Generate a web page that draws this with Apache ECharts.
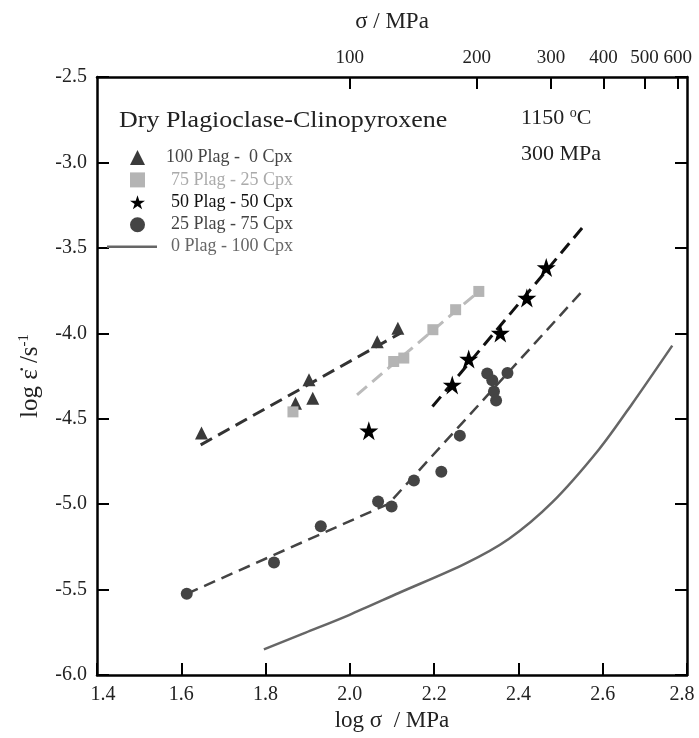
<!DOCTYPE html>
<html>
<head>
<meta charset="utf-8">
<script src="https://cdn.jsdelivr.net/npm/echarts@6/dist/echarts.min.js"></script>
<style>html,body{margin:0;padding:0;background:#fff}#c{width:699px;height:738px}</style>
</head>
<body>
<div id="c"></div>
<script>
// ---- data (log sigma / MPa, log strain rate / s^-1) ----
const xTicks = [1.4, 1.6, 1.8, 2.0, 2.2, 2.4, 2.6, 2.8];
const yTicks = [-6.0, -5.5, -5.0, -4.5, -4.0, -3.5, -3.0, -2.5];
const topTickMPa = [100, 200, 300, 400, 500, 600];

const plag100X = [1.648, 1.871, 1.903, 1.912, 2.065, 2.114];
const plag100Y = [-4.584, -4.409, -4.272, -4.380, -4.049, -3.970];
const plag75X = [1.865, 2.104, 2.128, 2.197, 2.251, 2.306];
const plag75Y = [-4.46, -4.165, -4.145, -3.979, -3.862, -3.755];
const plag50X = [2.045, 2.243, 2.282, 2.357, 2.420, 2.466];
const plag50Y = [-4.571, -4.302, -4.151, -3.999, -3.794, -3.615];
const plag25X = [1.613, 1.820, 1.931, 2.067, 2.099, 2.152, 2.217, 2.261, 2.326, 2.338, 2.342, 2.347, 2.374];
const plag25Y = [-5.525, -5.342, -5.129, -4.985, -5.014, -4.862, -4.810, -4.599, -4.236, -4.275, -4.341, -4.393, -4.232];

const fit100X = [1.646, 2.120];
const fit100Y = [-4.653, -3.999];
const fit75X = [2.017, 2.306];
const fit75Y = [-4.36, -3.755];
const fit50X = [2.196, 2.551];
const fit50Y = [-4.429, -3.384];
const fit25X = [1.613, 2.092, 2.551];
const fit25Y = [-5.525, -4.998, -3.755];
const cpx100X = [1.796, 1.895, 1.998, 2.116, 2.274, 2.377, 2.480, 2.591, 2.670, 2.765];
const cpx100Y = [-5.850, -5.752, -5.649, -5.520, -5.348, -5.204, -4.990, -4.680, -4.412, -4.072];

const seriesNames = ['100 Plag -  0 Cpx', '75 Plag - 25 Cpx', '50 Plag - 50 Cpx', '25 Plag - 75 Cpx', '0 Plag - 100 Cpx'];

const zip = (a, b) => a.map((v, i) => [v, b[i]]);
const FONT = 'Liberation Serif';
const STAR = 'path://M50,0 L61.8,35.1 L98.9,35.1 L68.8,56.7 L80.2,91.9 L50,70 L19.8,91.9 L31.2,56.7 L1.1,35.1 L38.2,35.1 Z';

const chart = echarts.init(document.getElementById('c'), null, {renderer: 'canvas'});

const axisLineStyle = {show: true, lineStyle: {color: '#000', width: 2.5}};
const tickStyle = {show: true, inside: true, length: 12, lineStyle: {color: '#000', width: 2}};
const xMin = xTicks[0], xMax = xTicks[xTicks.length - 1];

const option = {
  animation: false,
  backgroundColor: '#fff',
  grid: {left: 97, right: 12, top: 77, bottom: 63, containLabel: false, outerBoundsMode: 'none'},
  xAxis: [
    {
      type: 'value', position: 'bottom', min: xMin, max: xMax, interval: 0.2,
      axisLine: axisLineStyle, axisTick: tickStyle, splitLine: {show: false},
      axisLabel: {color: '#222', fontFamily: FONT, fontSize: 20, margin: 10,
        formatter: v => {
          const s = v.toFixed(1);
          if (Math.abs(v - xMin) < 1e-6) return '{l|' + s + '}';
          if (Math.abs(v - xMax) < 1e-6) return '{r|' + s + '}';
          return s;
        },
        rich: {
          l: {fontFamily: FONT, fontSize: 20, color: '#222', padding: [0, 0, 0, 12]},
          r: {fontFamily: FONT, fontSize: 20, color: '#222', padding: [0, 10, 0, 0]}
        }},
      name: 'log σ  / MPa', nameLocation: 'middle', nameGap: 32,
      nameTextStyle: {color: '#222', fontFamily: FONT, fontSize: 23}
    },
    {
      type: 'value', position: 'top', min: xMin, max: xMax,
      axisLine: axisLineStyle,
      axisTick: Object.assign({}, tickStyle, {customValues: topTickMPa.map(v => Math.log10(v))}),
      splitLine: {show: false},
      axisLabel: {color: '#222', fontFamily: FONT, fontSize: 19, margin: 9,
        customValues: topTickMPa.map(v => Math.log10(v)),
        formatter: v => String(Math.round(Math.pow(10, v)))},
      name: 'σ / MPa', nameLocation: 'middle', nameGap: 44,
      nameTextStyle: {color: '#222', fontFamily: FONT, fontSize: 23}
    }
  ],
  yAxis: [
    {
      type: 'value', position: 'left', min: -6, max: -2.5, interval: 0.5,
      axisLine: axisLineStyle, axisTick: tickStyle, splitLine: {show: false},
      axisLabel: {color: '#222', fontFamily: FONT, fontSize: 20, margin: 10,
        formatter: v => v.toFixed(1)},
      name: 'log ε̇ /s{sup|-1}', nameLocation: 'middle', nameGap: 44, nameRotate: 90,
      nameTextStyle: {color: '#222', fontFamily: FONT, fontSize: 25, lineHeight: 28,
        rich: {sup: {fontFamily: FONT, fontSize: 15, verticalAlign: 'top', lineHeight: 28, color: '#222'}}}
    },
    {
      type: 'value', position: 'right', min: -6, max: -2.5, interval: 0.5,
      axisLine: axisLineStyle, axisTick: tickStyle, splitLine: {show: false},
      axisLabel: {show: false}
    }
  ],
  legend: [
    {
      orient: 'vertical', left: 125, top: 143.5, itemWidth: 15, itemHeight: 15, itemGap: 4.4,
      selectedMode: false,
      textStyle: {fontFamily: FONT, fontSize: 18, lineHeight: 18},
      data: [
        {name: seriesNames[0], textStyle: {color: '#444', padding: [0, 0, 0, 16]}},
        {name: seriesNames[1], textStyle: {color: '#aaa', padding: [0, 0, 0, 21]}},
        {name: seriesNames[2], textStyle: {color: '#111', padding: [0, 0, 0, 21]}},
        {name: seriesNames[3], textStyle: {color: '#444', padding: [0, 0, 0, 21]}}
      ]
    },
    {
      orient: 'vertical', left: 102, top: 232.7, itemWidth: 50, itemHeight: 3,
      selectedMode: false,
      textStyle: {fontFamily: FONT, fontSize: 18, lineHeight: 18},
      data: [
        {name: seriesNames[4], icon: 'path://M0,0 L100,0 L100,5 L0,5 Z', textStyle: {color: '#666', padding: [0, 0, 0, 9]}}
      ]
    }
  ],
  graphic: [
    {type: 'text', left: 119, top: 109, scaleX: 1.13, style: {text: 'Dry Plagioclase-Clinopyroxene', fontFamily: FONT, fontSize: 23, fill: '#222'}},
    {type: 'text', left: 521, top: 106, style: {text: '1150 {s|o}C', fontFamily: FONT, fontSize: 22, fill: '#222',
      rich: {s: {fontFamily: FONT, fontSize: 14, verticalAlign: 'top', lineHeight: 24, fill: '#222'}}}},
    {type: 'text', left: 521, top: 143, style: {text: '300 MPa', fontFamily: FONT, fontSize: 22, fill: '#222'}}
  ],
  series: [
    {name: 'fit100', type: 'line', data: zip(fit100X, fit100Y), symbol: 'none', silent: true,
      lineStyle: {color: '#333', width: 3, type: [13, 7]}, z: 2},
    {name: 'fit75', type: 'line', data: zip(fit75X, fit75Y), symbol: 'none', silent: true,
      lineStyle: {color: '#bbb', width: 3, type: [13, 7]}, z: 2},
    {name: 'fit50', type: 'line', data: zip(fit50X, fit50Y), symbol: 'none', silent: true,
      lineStyle: {color: '#111', width: 3, type: [13, 7]}, z: 2},
    {name: 'fit25', type: 'line', data: zip(fit25X, fit25Y), symbol: 'none', silent: true,
      lineStyle: {color: '#444', width: 2.5, type: [12, 7]}, z: 2},
    {name: seriesNames[4], type: 'line', data: zip(cpx100X, cpx100Y), symbol: 'none', showSymbol: false,
      smooth: 0.3,
      lineStyle: {color: '#666', width: 2.5}, itemStyle: {color: '#666'}, z: 2},
    {name: seriesNames[0], type: 'scatter', data: zip(plag100X, plag100Y), symbol: 'triangle', symbolSize: 13,
      itemStyle: {color: '#3a3a3a', opacity: 1}, z: 3},
    {name: seriesNames[1], type: 'scatter', data: zip(plag75X, plag75Y), symbol: 'rect', symbolSize: 11,
      itemStyle: {color: '#b4b4b4', opacity: 1}, z: 3},
    {name: seriesNames[2], type: 'scatter', data: zip(plag50X, plag50Y), symbol: STAR, symbolSize: 19,
      itemStyle: {color: '#000', opacity: 1}, z: 3},
    {name: seriesNames[3], type: 'scatter', data: zip(plag25X, plag25Y), symbol: 'circle', symbolSize: 12,
      itemStyle: {color: '#444', opacity: 1}, z: 3}
  ]
};
chart.setOption(option);
</script>
</body>
</html>
